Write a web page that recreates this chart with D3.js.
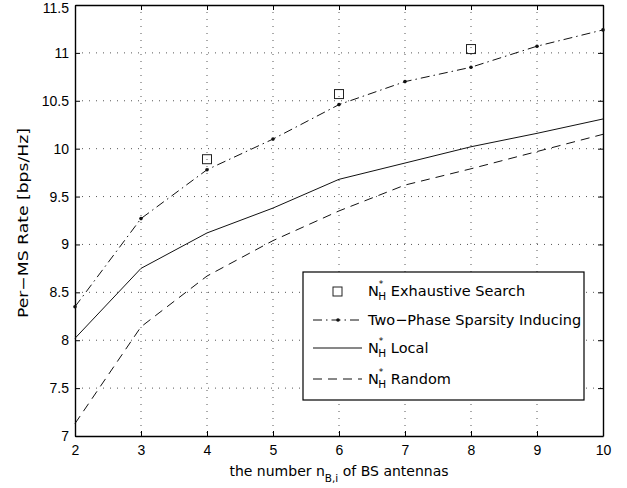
<!DOCTYPE html>
<html lang="en">
<head>
    <meta charset="UTF-8">
    <title>Per-MS Rate</title>
    <script src="https://d3js.org/d3.v7.min.js"></script>
    <style>
        body { margin: 0; background: #fff; }
        svg { font-family: "DejaVu Sans", "Liberation Sans", Arial, sans-serif; }
        .grid line { stroke: #444; stroke-dasharray: 1,6; stroke-width: 0.9; }
        .axis text { font-size: 14px; fill: #000; }
        .series { fill: none; stroke: #111; stroke-width: 1; }
    </style>
</head>
<body>
    <svg width="627" height="488"></svg>
    <script>
        // data
        const antennas = [2, 3, 4, 5, 6, 7, 8, 9, 10];
        const twoPhase = [8.35, 9.27, 9.78, 10.10, 10.46, 10.70, 10.85, 11.07, 11.24];
        const local = [8.02, 8.75, 9.12, 9.38, 9.68, 9.85, 10.02, 10.16, 10.31];
        const random = [7.13, 8.14, 8.67, 9.04, 9.35, 9.62, 9.79, 9.97, 10.15];
        const exhaustiveX = [4, 6, 8];
        const exhaustive = [9.89, 10.57, 11.04];
        const yTicks = [7, 7.5, 8, 8.5, 9, 9.5, 10, 10.5, 11, 11.5];

        const margin = {top: 5, right: 24, bottom: 52, left: 75},
              width = 627 - margin.left - margin.right,
              height = 488 - margin.top - margin.bottom;

        const svg = d3.select("svg").append("g")
            .attr("transform", `translate(${margin.left},${margin.top})`);

        const x = d3.scaleLinear().domain([2, 10]).range([0, width]);
        const y = d3.scaleLinear().domain([7, 11.5]).range([height, 0]);

        // dotted grid
        const grid = svg.append("g").attr("class", "grid");
        grid.selectAll(".vx").data(antennas.slice(1, -1)).enter().append("line")
            .attr("x1", d => x(d)).attr("x2", d => x(d))
            .attr("y1", 0).attr("y2", height);
        grid.selectAll(".hy").data(yTicks.slice(1, -1)).enter().append("line")
            .attr("x1", 0).attr("x2", width)
            .attr("y1", d => y(d)).attr("y2", d => y(d));

        // axes, MATLAB style ticks pointing inward
        const fmt = d => String(d);
        svg.append("g").attr("class", "axis")
            .attr("transform", `translate(0,${height})`)
            .call(d3.axisBottom(x).tickValues(antennas).tickFormat(fmt).tickSizeInner(-5).tickSizeOuter(0).tickPadding(9));
        const yAxis = svg.append("g").attr("class", "axis")
            .call(d3.axisLeft(y).tickValues(yTicks).tickFormat(fmt).tickSizeInner(-5).tickSizeOuter(0).tickPadding(6));
        // keep the top label inside the window
        yAxis.selectAll(".tick text").filter(d => d === 11.5).attr("dy", "0.55em");
        svg.append("g").attr("class", "axis")
            .call(d3.axisTop(x).tickValues(antennas).tickFormat("").tickSizeInner(-5).tickSizeOuter(0));
        svg.append("g").attr("class", "axis")
            .attr("transform", `translate(${width},0)`)
            .call(d3.axisRight(y).tickValues(yTicks).tickFormat("").tickSizeInner(-5).tickSizeOuter(0));
        svg.selectAll(".axis path, .axis line").attr("stroke", "#000");
        svg.selectAll(".axis .domain").attr("stroke-width", 1.4);

        const line = d3.line().x(d => x(d[0])).y(d => y(d[1]));
        const zip = vals => antennas.map((a, i) => [a, vals[i]]);

        // series
        svg.append("path").attr("class", "series")
            .attr("d", line(zip(twoPhase)))
            .attr("stroke-dasharray", "9,4,1.5,4");
        svg.selectAll(".dot").data(zip(twoPhase)).enter().append("circle")
            .attr("cx", d => x(d[0])).attr("cy", d => y(d[1])).attr("r", 1.8).attr("fill", "#111");
        svg.append("path").attr("class", "series")
            .attr("d", line(zip(local)));
        svg.append("path").attr("class", "series")
            .attr("d", line(zip(random)))
            .attr("stroke-dasharray", "9,6");
        svg.selectAll(".sq").data(exhaustiveX.map((a, i) => [a, exhaustive[i]])).enter().append("rect")
            .attr("x", d => x(d[0]) - 4.5).attr("y", d => y(d[1]) - 4.5)
            .attr("width", 9).attr("height", 9)
            .attr("fill", "none").attr("stroke", "#222").attr("stroke-width", 1);

        // axis labels
        svg.append("text")
            .attr("transform", "rotate(-90)")
            .attr("x", -(223 - margin.top)).attr("y", -margin.left + 24)
            .attr("text-anchor", "middle").attr("dominant-baseline", "middle")
            .attr("textLength", 190).attr("lengthAdjust", "spacingAndGlyphs")
            .style("font-size", "14px")
            .text("Per\u2212MS Rate [bps/Hz]");

        const xl = svg.append("text")
            .attr("x", width / 2).attr("y", height + 40)
            .attr("text-anchor", "middle").style("font-size", "14px");
        xl.append("tspan").text("the number n");
        xl.append("tspan").attr("dy", 6).style("font-size", "10.5px").text("B,i");
        xl.append("tspan").attr("dy", -6).text(" of BS antennas");

        // legend
        const lg = svg.append("g").attr("transform", `translate(${303 - margin.left},${272 - margin.top})`);
        lg.append("rect").attr("width", 281).attr("height", 128)
            .attr("fill", "#fff").attr("stroke", "#000").attr("stroke-width", 1.2);

        const entries = [
            {label: " Exhaustive Search", nh: true},
            {label: "Two\u2212Phase Sparsity Inducing", nh: false},
            {label: " Local", nh: true},
            {label: " Random", nh: true}
        ];
        const rowY = [19, 48, 76, 107];

        entries.forEach((e, i) => {
            const ry = rowY[i];
            if (i === 0) {
                lg.append("rect").attr("x", 30).attr("y", ry - 4).attr("width", 9).attr("height", 9)
                    .attr("fill", "none").attr("stroke", "#222");
            } else {
                lg.append("line").attr("x1", 10).attr("x2", 59).attr("y1", ry).attr("y2", ry)
                    .attr("stroke", "#111")
                    .attr("stroke-dasharray", i === 1 ? "9,4,1.5,4" : i === 3 ? "9,6" : null);
                if (i === 1) lg.append("circle").attr("cx", 35).attr("cy", ry).attr("r", 1.8).attr("fill", "#111");
            }
            const t = lg.append("text").attr("x", 65).attr("y", ry + 5).style("font-size", "14.5px");
            if (e.nh) {
                t.append("tspan").text("N");
                t.append("tspan").attr("dy", -9).style("font-size", "9px").text("*");
                t.append("tspan").attr("dx", -5).attr("dy", 13).style("font-size", "10.5px").text("H");
                t.append("tspan").attr("dy", -4).text(e.label);
            } else {
                t.text(e.label);
            }
        });
    </script>
</body>
</html>
